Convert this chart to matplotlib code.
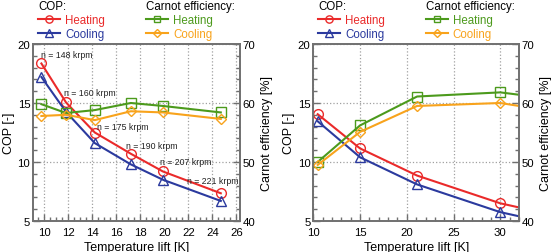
import matplotlib.pyplot as plt
from matplotlib.ticker import MultipleLocator

plt.rcParams['font.family'] = ['Liberation Sans', 'DejaVu Sans']

# left panel data
lift_a = [9.75, 11.8, 14.2, 17.2, 19.87, 24.7]
cop_heat_a = [18.35, 15.05, 12.5, 10.7, 9.2, 7.35]
cop_cool_a = [17.2, 14.25, 11.6, 9.8, 8.5, 6.7]
carnot_heat_a = [59.8, 58.3, 58.8, 60.0, 59.5, 58.4]
carnot_cool_a = [57.8, 58.0, 57.1, 58.6, 58.4, 57.3]
speed_labels = ['n = 148 krpm', 'n = 160 krpm', 'n = 175 krpm',
                'n = 190 krpm', 'n = 207 krpm', 'n = 221 krpm']
label_x = [9.75, 11.67, 14.4, 16.8, 19.67, 21.9]
label_y = [19.15, 15.85, 13.05, 11.44, 10.08, 8.47]

# right panel data (last value = curve end at axis edge, no marker)
lift_b = [10.47, 15.0, 21.1, 30.0, 32.0]
cop_heat_b = [14.05, 11.15, 8.85, 6.5, 6.15]
cop_cool_b = [13.45, 10.4, 8.1, 5.75, 5.4]
carnot_heat_b = [50.0, 56.2, 61.1, 61.8, 61.4]
carnot_cool_b = [49.5, 55.1, 59.5, 60.0, 59.5]

RED = '#ea2a2a'
BLUE = '#2b3a9e'
GREEN = '#4c9a1c'
ORANGE = '#f8a31c'
SPINE = '#707070'
FS = 8.3

fig = plt.figure(figsize=(5.53, 2.53), dpi=100)
ax_a = fig.add_axes([33 / 553, 1 - 222 / 253, 207 / 553, 177 / 253])
ax_b = fig.add_axes([313.3 / 553, 1 - 222 / 253, 205.7 / 553, 177 / 253])


def style(ax, ax2, xmin, xmax, xmaj, xmin_step):
    ax.set_xlim(xmin, xmax)
    ax.set_ylim(5, 20)
    ax2.set_ylim(40, 70)
    ax.xaxis.set_major_locator(MultipleLocator(xmaj))
    ax.xaxis.set_minor_locator(MultipleLocator(xmin_step))
    ax.yaxis.set_major_locator(MultipleLocator(5))
    ax.yaxis.set_minor_locator(MultipleLocator(1))
    ax2.yaxis.set_major_locator(MultipleLocator(10))
    ax2.yaxis.set_minor_locator(MultipleLocator(2))
    for a in (ax, ax2):
        for s in a.spines.values():
            s.set_color(SPINE)
            s.set_linewidth(1.2)
        a.tick_params(which='both', direction='in', colors=SPINE,
                      labelcolor='black', labelsize=8.2, pad=2)
        a.tick_params(which='major', length=5, width=1)
        a.tick_params(which='minor', length=3, width=1)
    ax.tick_params(axis='x', pad=4)
    ax.grid(True, which='major', linestyle=':', color='#a0a0a0', linewidth=0.9)
    ax.set_xlabel('Temperature lift [K]', fontsize=9, labelpad=3)
    ax.set_ylabel('COP [-]', fontsize=9, labelpad=2)
    ax2.set_ylabel('Carnot efficiency [%]', fontsize=9, labelpad=4)


def legends(ax, ax2, h):
    common = dict(loc='upper left', frameon=False, fontsize=FS,
                  title_fontsize=FS, handlelength=1.9, handletextpad=0.45,
                  labelspacing=0.2, borderpad=0, borderaxespad=0,
                  markerscale=0.75)
    l1 = ax.legend(handles=h[:2], title='COP:', bbox_to_anchor=(0.024, 1.25),
                   labelcolor=[RED, BLUE], **common)
    l1._legend_box.align = 'left'
    ax.add_artist(l1)
    l2 = ax.legend(handles=h[2:], title='Carnot efficiency:',
                   bbox_to_anchor=(0.546, 1.25),
                   labelcolor=[GREEN, ORANGE], **common)
    l2._legend_box.align = 'left'


mk = dict(markerfacecolor='none', linewidth=1.5, markeredgewidth=1.0)

# left panel
ax2_a = ax_a.twinx()
h = []
h += ax_a.plot(lift_a, cop_heat_a, color=RED, marker='o', markersize=7, label='Heating', **mk)
h += ax_a.plot(lift_a, cop_cool_a, color=BLUE, marker='^', markersize=7, label='Cooling', **mk)
h += ax2_a.plot(lift_a, carnot_heat_a, color=GREEN, marker='s', markersize=6.5, label='Heating', **mk)
h += ax2_a.plot(lift_a, carnot_cool_a, color=ORANGE, marker='D', markersize=5, label='Cooling', **mk)
for t, x, y in zip(speed_labels, label_x, label_y):
    ax_a.text(x, y, t, fontsize=6.3, ha='left', va='center', color='#222222')
style(ax_a, ax2_a, 9.05, 26.3, 2, 0.5)
legends(ax_a, ax2_a, h)

# right panel
ax2_b = ax_b.twinx()
mev = [0, 1, 2, 3]
h = []
h += ax_b.plot(lift_b, cop_heat_b, color=RED, marker='o', markersize=7, markevery=mev, label='Heating', **mk)
h += ax_b.plot(lift_b, cop_cool_b, color=BLUE, marker='^', markersize=7, markevery=mev, label='Cooling', **mk)
h += ax2_b.plot(lift_b, carnot_heat_b, color=GREEN, marker='s', markersize=6.5, markevery=mev, label='Heating', **mk)
h += ax2_b.plot(lift_b, carnot_cool_b, color=ORANGE, marker='D', markersize=5, markevery=mev, label='Cooling', **mk)
style(ax_b, ax2_b, 10, 32, 5, 1)
legends(ax_b, ax2_b, h)

fig.savefig('out.png', dpi=100)
